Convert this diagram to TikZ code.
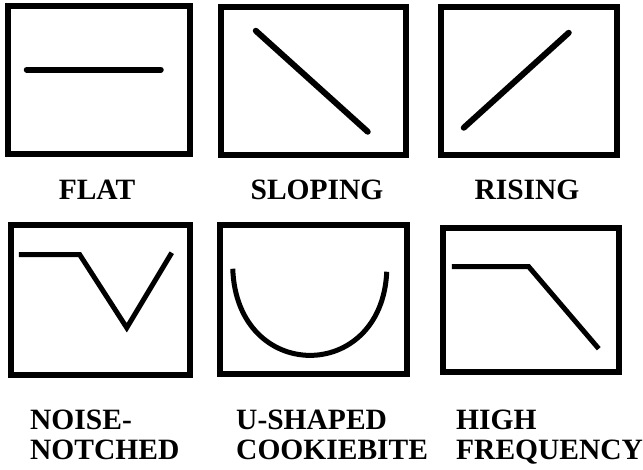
\documentclass[tikz,border=0pt]{standalone}
\usepackage{fontspec}
\setmainfont{Liberation Serif}
\usepackage{tikz}
\usetikzlibrary{calc}
\definecolor{EqInk}{HTML}{000000}
\definecolor{EqPaper}{HTML}{FFFFFF}
\tikzset{
  eqbox/.style={draw=EqInk,line width=6.5pt,inner sep=0pt},
  eqcurve/.style={draw=EqInk,line width=6pt,line cap=round,line join=miter},
  eqlabel/.style={text=EqInk,font=\fontsize{29.5}{30}\selectfont\bfseries,inner sep=0pt,align=left}
}

\begin{document}
\begin{tikzpicture}[x=1pt,y=-1pt]
\fill[EqPaper] (0,0) rectangle (643,470);
\useasboundingbox (0,0) rectangle (643,470);
% top row
\node[eqbox,minimum width=182pt,minimum height=148pt] (flat) at (99,80) {};
\node[eqbox,minimum width=185pt,minimum height=148pt] (slope) at (313.5,81) {};
\node[eqbox,minimum width=176pt,minimum height=148pt] (rise) at (529,81) {};
\draw[eqcurve] ($(flat.north west)+(22,67)$)--($(flat.north west)+(156,67)$);
\draw[eqcurve] ($(slope.north west)+(38,27)$)--($(slope.north west)+(150,128)$);
\draw[eqcurve] ($(rise.north west)+(26,124)$)--($(rise.north west)+(131,29)$);
\node[eqlabel,anchor=base] (flatlbl) at (97,200) {FLAT};
\node[eqlabel,anchor=base] (slopelbl) at (317,200) {SLOPING};
\node[eqlabel,anchor=base] (riselbl) at (527,200) {RISING};
% bottom row
\node[eqbox,minimum width=179pt,minimum height=150pt] (notch) at (100.5,300) {};
\node[eqbox,minimum width=187pt,minimum height=149pt] (cookie) at (313.5,299.5) {};
\node[eqbox,minimum width=176pt,minimum height=144pt] (hifreq) at (531,300) {};
\draw[eqcurve,line width=5pt,line cap=butt] ($(notch.north west)+(11,33)$)--($(notch.north west)+(72,33)$)
  --($(notch.north west)+(119,106)$)--($(notch.north west)+(164,31)$);
\draw[eqcurve,line width=5pt,line cap=butt] ($(cookie.north west)+(16,47)$)
  .. controls ($(cookie.north west)+(20,162)$) and ($(cookie.north west)+(165,162)$) .. ($(cookie.north west)+(170,50)$);
\draw[eqcurve,line width=5pt,line cap=butt] ($(hifreq.north west)+(12,42)$)--($(hifreq.north west)+(89,42)$)
  --($(hifreq.north west)+(159,124)$);
\node[eqlabel,anchor=base west] (notchlbl) at (30,459) {NOISE-\\NOTCHED};
\node[eqlabel,anchor=base west] (cookielbl) at (236,459) {U-SHAPED\\COOKIEBITE};
\node[eqlabel,anchor=base west] (hifreqlbl) at (456,459) {HIGH\\FREQUENCY};
\end{tikzpicture}
\end{document}
